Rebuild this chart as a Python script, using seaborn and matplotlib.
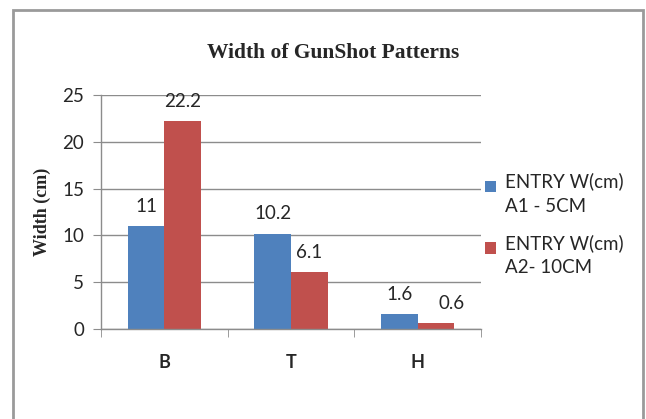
import seaborn as sns
import matplotlib.pyplot as plt
import pandas as pd
from matplotlib.patches import Rectangle
from matplotlib.legend_handler import HandlerPatch

# data
categories = ['B', 'T', 'H']
series = ['ENTRY W(cm)\nA1 - 5CM', 'ENTRY W(cm)\nA2- 10CM']
entry_a1 = [11, 10.2, 1.6]
entry_a2 = [22.2, 6.1, 0.6]
yticks = [0, 5, 10, 15, 20, 25]

df = pd.DataFrame({
    'cat': categories * 2,
    'width': entry_a1 + entry_a2,
    'series': [series[0]] * 3 + [series[1]] * 3,
})


class TopSquare(HandlerPatch):
    # legend square sits next to the first line of a two line label
    def create_artists(self, legend, orig_handle, xdescent, ydescent,
                       width, height, fontsize, trans):
        s = 0.6 * fontsize
        p = Rectangle((-xdescent, -ydescent + height - s * 1.25), s, s,
                      facecolor=orig_handle.get_facecolor(), edgecolor='none',
                      transform=trans)
        return [p]


sns.set_style('white')
plt.rcParams['font.family'] = ['Lato', 'DejaVu Sans']

fig = plt.figure(figsize=(6.46, 4.19), dpi=100)
ax = fig.add_axes([101 / 646, 1 - 329 / 419, 380 / 646, 234 / 419])

sns.barplot(data=df, x='cat', y='width', hue='series', order=categories,
            hue_order=series, palette=['#4F81BD', '#C0504D'], width=0.58,
            saturation=1, edgecolor='none', ax=ax)

for c in ax.containers:
    anns = ax.bar_label(c, fmt='%g', padding=8, fontsize=13.5)
# excel nudged the smallest label to the right
anns[-1].xyann = (anns[-1].xyann[0] + 11, anns[-1].xyann[1])

ax.set_ylim(0, 25)
ax.set_xlim(-0.5, 2.5)
ax.set_yticks(yticks)
ax.yaxis.grid(True, color='#8c8c8c', linewidth=1)
ax.set_axisbelow(True)
for s in ['top', 'right']:
    ax.spines[s].set_visible(False)
for s in ['left', 'bottom']:
    ax.spines[s].set_color('#8c8c8c')
    ax.spines[s].set_linewidth(1)

ax.tick_params(axis='y', left=True, length=6, color='#8c8c8c', labelsize=13.5, pad=6)
ax.tick_params(axis='x', which='major', length=0, pad=18)
ax.set_xticks([-0.5, 0.5, 1.5, 2.5], minor=True)
ax.tick_params(axis='x', which='minor', bottom=True, length=6, color='#8c8c8c')
for lbl in ax.get_xticklabels():
    lbl.set_fontweight('bold')
    lbl.set_fontsize(13)

ax.set_xlabel('')
ax.set_ylabel('Width (cm)', family=['Liberation Serif'], fontweight='bold',
              fontsize=13, labelpad=8)

fig.text(333 / 646, 1 - 53 / 419, 'Width of GunShot Patterns', ha='center',
         va='center', family=['Liberation Serif'], fontweight='bold', fontsize=15.5)

handles, labels = ax.get_legend_handles_labels()
leg = ax.legend(handles, labels, loc='upper left', bbox_to_anchor=(0.965, 0.74),
                frameon=False, fontsize=13.5, handlelength=0.6, handleheight=2.4,
                handletextpad=0.5, labelspacing=1.05,
                handler_map={h: TopSquare() for h in handles})
for t in leg.get_texts():
    t.set_linespacing(1.5)

# outer chart frame
fig.patches.append(Rectangle((13 / 646, -0.05), 630 / 646, 1.05 - 10 / 419,
                             transform=fig.transFigure, fill=False,
                             edgecolor='#9a9a9a', linewidth=2))

fig.savefig('out.png', dpi=100)
